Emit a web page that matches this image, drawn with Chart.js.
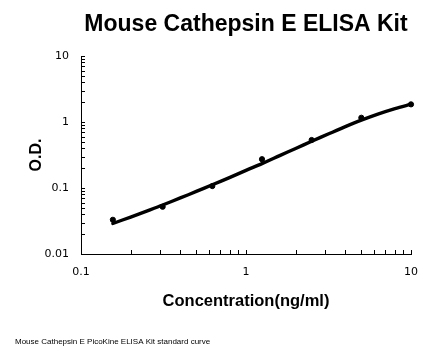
<!DOCTYPE html>
<html>
<head>
<meta charset="utf-8">
<script src="https://cdn.jsdelivr.net/npm/chart.js@4"></script>
<style>
  html, body { margin: 0; padding: 0; background: #fff; }
  #wrap { position: relative; width: 446px; height: 356px; }
</style>
</head>
<body>
<div id="wrap"><canvas id="c"></canvas></div>
<script>
// ---- data ----
const titleText = 'Mouse Cathepsin E ELISA Kit';
const xTitle = 'Concentration(ng/ml)';
const yTitle = 'O.D.';
const footnote = 'Mouse Cathepsin E PicoKine ELISA Kit standard curve';

const xTickLabels = ['0.1', '1', '10'];
const yTickLabels = ['0.01', '0.1', '1', '10'];

// measured standards
const stdConc = [0.156, 0.3125, 0.625, 1.25, 2.5, 5, 10];
const stdOD   = [0.033, 0.052, 0.107, 0.273, 0.534, 1.16, 1.85];

// fitted standard curve
const curveConc = [0.156, 0.2, 0.25, 0.3125, 0.4, 0.5, 0.625, 0.8, 1, 1.25, 1.6, 2, 2.5, 3.2, 4, 5, 6.3, 8, 10];
const curveOD   = [0.029, 0.0363, 0.0447, 0.0552, 0.0707, 0.0887, 0.112, 0.145, 0.185, 0.234, 0.309, 0.397, 0.51, 0.668, 0.85, 1.067, 1.32, 1.60, 1.86];

// ---- helpers ----
function decadeTicks(labels) {
  const min = Number(labels[0]), max = Number(labels[labels.length - 1]);
  const out = [];
  for (let e = Math.round(Math.log10(min)); e < Math.round(Math.log10(max)); e++) {
    for (let m = 1; m < 10; m++) out.push(m * Math.pow(10, e));
  }
  out.push(max);
  return out;
}
function labelFor(labels) {
  return function (v) {
    const s = labels.find(l => Math.abs(Number(l) / v - 1) < 1e-6);
    return s === undefined ? '' : s;
  };
}

const inwardTicks = {
  id: 'inwardTicks',
  afterDraw(chart) {
    const ctx = chart.ctx;
    const xs = chart.scales.x, ys = chart.scales.y;
    const area = chart.chartArea;
    ctx.save();
    ctx.strokeStyle = '#000';
    ctx.lineWidth = 1;
    ctx.beginPath();
    xs.ticks.forEach(t => {
      const px = Math.round(xs.getPixelForValue(t.value)) + 0.5;
      ctx.moveTo(px, area.bottom);
      ctx.lineTo(px, area.bottom - 4);
    });
    ys.ticks.forEach(t => {
      const py = Math.round(ys.getPixelForValue(t.value)) + 0.5;
      ctx.moveTo(area.left, py);
      ctx.lineTo(area.left + 4, py);
    });
    ctx.stroke();
    ctx.restore();
  }
};

Chart.defaults.font.family = '"DejaVu Sans", sans-serif';
Chart.defaults.color = '#000';

new Chart(document.getElementById('c'), {
  type: 'scatter',
  data: {
    datasets: [
      {
        label: 'standards',
        data: stdConc.map((x, i) => ({ x: x, y: stdOD[i] })),
        backgroundColor: '#000',
        borderColor: '#000',
        pointRadius: 2.6,
        pointHoverRadius: 2.6,
        showLine: false,
        clip: 6,
        order: 0
      },
      {
        label: 'curve',
        data: curveConc.map((x, i) => ({ x: x, y: curveOD[i] })),
        borderColor: '#000',
        backgroundColor: '#000',
        borderWidth: 3.4,
        borderCapStyle: 'round',
        borderJoinStyle: 'round',
        pointRadius: 0,
        showLine: true,
        tension: 0.3,
        clip: 6,
        order: 1
      }
    ]
  },
  options: {
    responsive: true,
    maintainAspectRatio: false,
    animation: false,
    layout: { padding: { left: 15, right: 35, top: 0, bottom: 0 } },
    plugins: {
      legend: { display: false },
      tooltip: { enabled: false },
      title: {
        display: true,
        text: titleText,
        fullSize: false,
        font: { family: '"Liberation Sans", Arial, sans-serif', size: 23, weight: 'bold', lineHeight: 1.2 },
        padding: { top: 11.2, bottom: 17.2 },
        color: '#000'
      },
      subtitle: {
        display: true,
        text: footnote,
        position: 'bottom',
        align: 'start',
        fullSize: true,
        font: { family: '"Liberation Sans", Arial, sans-serif', size: 8, weight: 'normal', lineHeight: 1.2 },
        padding: { top: 0, bottom: 9.2 },
        color: '#000'
      }
    },
    scales: {
      x: {
        type: 'logarithmic',
        min: Number(xTickLabels[0]),
        max: Number(xTickLabels[xTickLabels.length - 1]),
        afterBuildTicks: s => { s.ticks = decadeTicks(xTickLabels).map(v => ({ value: v })); },
        afterFit: s => { s.height = 83.2; },
        grid: { display: true, drawOnChartArea: false, drawTicks: false },
        border: { display: true, color: '#000', width: 1 },
        ticks: {
          autoSkip: false, maxRotation: 0, padding: 12,
          font: { size: 11 },
          callback: labelFor(xTickLabels)
        },
        title: {
          display: true,
          text: xTitle,
          font: { family: '"Liberation Sans", Arial, sans-serif', size: 16.5, weight: 'bold', lineHeight: 1.2 },
          padding: { top: 0, bottom: 26.3 }
        }
      },
      y: {
        type: 'logarithmic',
        min: Number(yTickLabels[0]),
        max: Number(yTickLabels[yTickLabels.length - 1]),
        afterBuildTicks: s => { s.ticks = decadeTicks(yTickLabels).map(v => ({ value: v })); },
        afterFit: s => { s.width = 66; },
        grid: { display: true, drawOnChartArea: false, drawTicks: false },
        border: { display: true, color: '#000', width: 1 },
        ticks: {
          autoSkip: false, padding: 12,
          font: { size: 11 },
          callback: labelFor(yTickLabels)
        },
        title: {
          display: true,
          text: yTitle,
          font: { family: '"Liberation Sans", Arial, sans-serif', size: 16, weight: 'bold', lineHeight: 1.2 },
          padding: { top: 12.4, bottom: 0 }
        }
      }
    }
  },
  plugins: [inwardTicks]
});
</script>
</body>
</html>
